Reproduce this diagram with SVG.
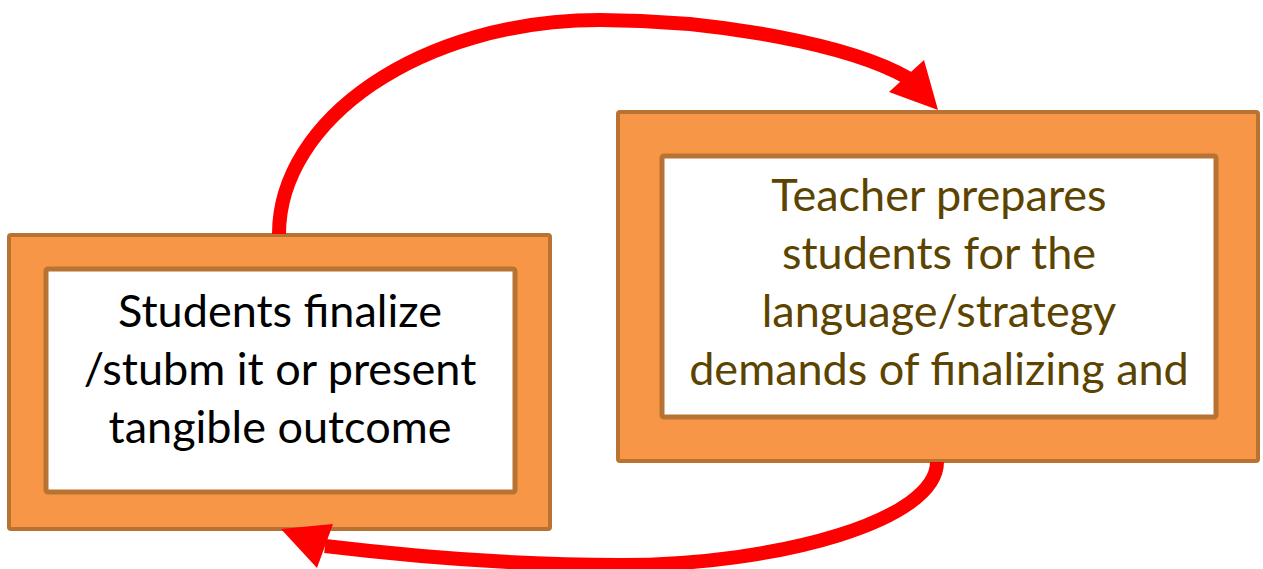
<svg xmlns="http://www.w3.org/2000/svg" width="1263" height="569" viewBox="0 0 1263 569">
<style>
.outer{fill:#F79646;stroke:#B87333;stroke-width:4}
.inner{fill:#FFFFFF;stroke:#B87333;stroke-width:5}
.t{font-family:Lato,"Liberation Sans",sans-serif;font-size:45px;text-anchor:middle}
.tl{fill:#000000}
.tr{fill:#5C4400}
.arc{fill:none;stroke:#FF0000;stroke-width:14}
.head{fill:#FF0000}
</style>
<rect width="1263" height="569" fill="#FFFFFF"/>
<g id="node-students">
<rect class="outer" x="9" y="235" width="541" height="294" rx="2"/>
<rect class="inner" x="46" y="269" width="469" height="223" rx="2"/>
<text class="t tl" x="280" y="327">Students finalize</text>
<text class="t tl" x="280" y="385">/stubm it or present</text>
<text class="t tl" x="280" y="443">tangible outcome</text>
</g>
<g id="node-teacher">
<rect class="outer" x="618" y="112" width="640" height="349" rx="2"/>
<rect class="inner" x="662" y="156" width="554" height="261" rx="2"/>
<text class="t tr" x="939" y="211">Teacher prepares</text>
<text class="t tr" x="939" y="269">students for the</text>
<text class="t tr" x="939" y="327">language/strategy</text>
<text class="t tr" x="939" y="385">demands of finalizing and</text>
</g>
<g id="connectors">
<path class="arc" d="M279,234 C279,120 420,20 600,20 C720,20 850,45 908,78"/>
<polygon class="head" points="924,60 938,110 889,92"/>
<path class="arc" d="M937,462 C937,520 780,565 620,565 C500,565 400,555 325,546"/>
<polygon class="head" points="281,529 333,524 317,568"/>
</g>
</svg>
